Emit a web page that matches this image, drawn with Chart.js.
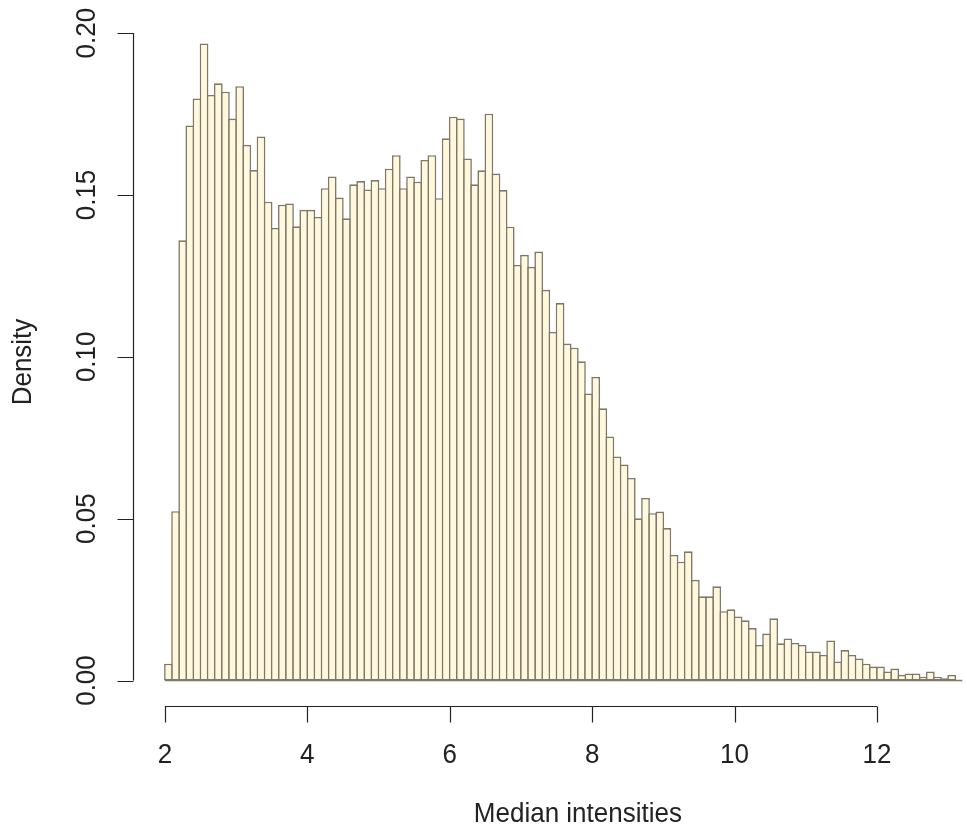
<!DOCTYPE html>
<html>
<head>
<meta charset="utf-8">
<title>Median intensities</title>
<script src="https://cdn.jsdelivr.net/npm/chart.js@4.4.0/dist/chart.umd.min.js"></script>
<style>
  html, body { margin: 0; padding: 0; background: #ffffff; }
  #wrap { width: 967px; height: 834px; }
</style>
</head>
<body>
<div id="wrap"><canvas id="histchart" width="967" height="834"></canvas></div>
<script>
'use strict';

// histogram breaks start at 2.0, bins are 0.1 wide
const firstBreak = 2.0;
const binWidth = 0.1;

// density of each bin, 2.0-2.1 up to 13.1-13.2
const density = [
  0.0052, 0.0523, 0.1360, 0.1715, 0.1798, 0.1968, 0.1809, 0.1845, 0.1819, 0.1736,
  0.1836, 0.1655, 0.1577, 0.1681, 0.1479, 0.1398, 0.1470, 0.1474, 0.1403, 0.1454,
  0.1454, 0.1432, 0.1521, 0.1557, 0.1492, 0.1428, 0.1533, 0.1543, 0.1517, 0.1546,
  0.1521, 0.1581, 0.1623, 0.1521, 0.1557, 0.1541, 0.1608, 0.1623, 0.1490, 0.1675,
  0.1742, 0.1736, 0.1613, 0.1533, 0.1576, 0.1751, 0.1566, 0.1515, 0.1402, 0.1284,
  0.1315, 0.1278, 0.1325, 0.1207, 0.1077, 0.1166, 0.1041, 0.1028, 0.0986, 0.0887,
  0.0938, 0.0841, 0.0754, 0.0692, 0.0667, 0.0626, 0.0501, 0.0564, 0.0517, 0.0522,
  0.0471, 0.0388, 0.0367, 0.0399, 0.0311, 0.0260, 0.0260, 0.0291, 0.0214, 0.0220,
  0.0198, 0.0186, 0.0162, 0.0110, 0.0145, 0.0192, 0.0115, 0.0130, 0.0116, 0.0110,
  0.0090, 0.0090, 0.0079, 0.0124, 0.0059, 0.0094, 0.0079, 0.0068, 0.0052, 0.0043,
  0.0043, 0.0028, 0.0037, 0.0017, 0.0022, 0.0022, 0.0012, 0.0028, 0.0012, 0.0007,
  0.0017, 0.0000
];

const xTicks = [2, 4, 6, 8, 10, 12];
const xTickLabels = ['2', '4', '6', '8', '10', '12'];
const yTicks = [0, 0.05, 0.10, 0.15, 0.20];
const yTickLabels = ['0.00', '0.05', '0.10', '0.15', '0.20'];

const xTitle = 'Median intensities';
const yTitle = 'Density';

const fillColour = '#fff8dc';
const edgeColour = '#7f7868';
const inkColour = '#222222';
const edgeWidth = 1.6;
const labelFont = '26px "Liberation Sans", Arial, sans-serif';

// bin centres for the linear x scale
const points = density.map((d, i) => ({ x: firstBreak + (i + 0.5) * binWidth, y: d }));
const lastBreak = firstBreak + density.length * binWidth;

// plot region like base R: 4% extension of the data range on each axis
const xRange = lastBreak - firstBreak;
const xMin = firstBreak - 0.04 * xRange;
const yMax = Math.max(...density);
const yLow = -0.04 * yMax;
const yHigh = yMax * 1.04;

// labels are a little taller than the stock font
function tallText(ctx, text, x, y) {
  ctx.save();
  ctx.translate(x, y);
  ctx.scale(1, 1.08);
  ctx.fillText(text, 0, 0);
  ctx.restore();
}

// R style axes: lines only between the outer ticks, ticks pointing outwards
const rAxes = {
  id: 'rAxes',
  afterDatasetsDraw(chart) {
    const ctx = chart.ctx;
    const xs = chart.scales.x;
    const ys = chart.scales.y;
    const area = chart.chartArea;
    const tick = 16;
    ctx.save();

    // zero-height bins still leave their bottom edge on the baseline
    ctx.strokeStyle = edgeColour;
    ctx.lineWidth = edgeWidth;
    ctx.beginPath();
    ctx.moveTo(xs.getPixelForValue(firstBreak), ys.getPixelForValue(0));
    ctx.lineTo(xs.getPixelForValue(lastBreak), ys.getPixelForValue(0));
    ctx.stroke();

    ctx.strokeStyle = inkColour;
    ctx.fillStyle = inkColour;
    ctx.lineWidth = 1.2;
    ctx.font = labelFont;

    // x axis
    const by = Math.round(area.bottom) + 0.5;
    ctx.beginPath();
    ctx.moveTo(xs.getPixelForValue(xTicks[0]), by);
    ctx.lineTo(xs.getPixelForValue(xTicks[xTicks.length - 1]), by);
    xTicks.forEach(v => {
      const px = Math.round(xs.getPixelForValue(v)) + 0.5;
      ctx.moveTo(px, by);
      ctx.lineTo(px, by + tick);
    });
    ctx.stroke();
    ctx.textAlign = 'center';
    ctx.textBaseline = 'alphabetic';
    xTicks.forEach((v, i) => {
      tallText(ctx, xTickLabels[i], xs.getPixelForValue(v), area.bottom + 57);
    });
    tallText(ctx, xTitle, xs.getPixelForValue(7.8), area.bottom + 116);

    // y axis
    const lx = Math.round(area.left) + 0.5;
    ctx.beginPath();
    ctx.moveTo(lx, ys.getPixelForValue(yTicks[0]));
    ctx.lineTo(lx, ys.getPixelForValue(yTicks[yTicks.length - 1]));
    yTicks.forEach(v => {
      const py = Math.round(ys.getPixelForValue(v)) + 0.5;
      ctx.moveTo(lx, py);
      ctx.lineTo(lx - tick, py);
    });
    ctx.stroke();
    yTicks.forEach((v, i) => {
      ctx.save();
      ctx.translate(area.left - 38, ys.getPixelForValue(v));
      ctx.rotate(-Math.PI / 2);
      tallText(ctx, yTickLabels[i], 0, 0);
      ctx.restore();
    });
    ctx.save();
    ctx.translate(area.left - 102, (area.top + area.bottom) / 2);
    ctx.rotate(-Math.PI / 2);
    tallText(ctx, yTitle, 0, 0);
    ctx.restore();

    ctx.restore();
  }
};

function drawHistogram() {
  const ctx = document.getElementById('histchart').getContext('2d');
  return new Chart(ctx, {
    type: 'bar',
    data: {
      datasets: [{
        label: yTitle,
        data: points,
        backgroundColor: fillColour,
        borderColor: edgeColour,
        borderWidth: edgeWidth,
        borderSkipped: false,
        // widen by one border so neighbouring bins share a single edge
        barPercentage: 1 + edgeWidth / 7.12,
        categoryPercentage: 1
      }]
    },
    options: {
      responsive: false,
      animation: false,
      events: [],
      layout: { padding: { left: 133, right: 0, top: 18, bottom: 128 } },
      plugins: {
        legend: { display: false },
        tooltip: { enabled: false }
      },
      scales: {
        x: {
          type: 'linear',
          display: false,
          offset: false,
          min: xMin,
          // the page is narrower than the full plot region, so it stops at 13.265
          max: 13.265
        },
        y: {
          type: 'linear',
          display: false,
          min: yLow,
          max: yHigh
        }
      }
    },
    plugins: [rAxes]
  });
}

drawHistogram();
</script>
</body>
</html>
